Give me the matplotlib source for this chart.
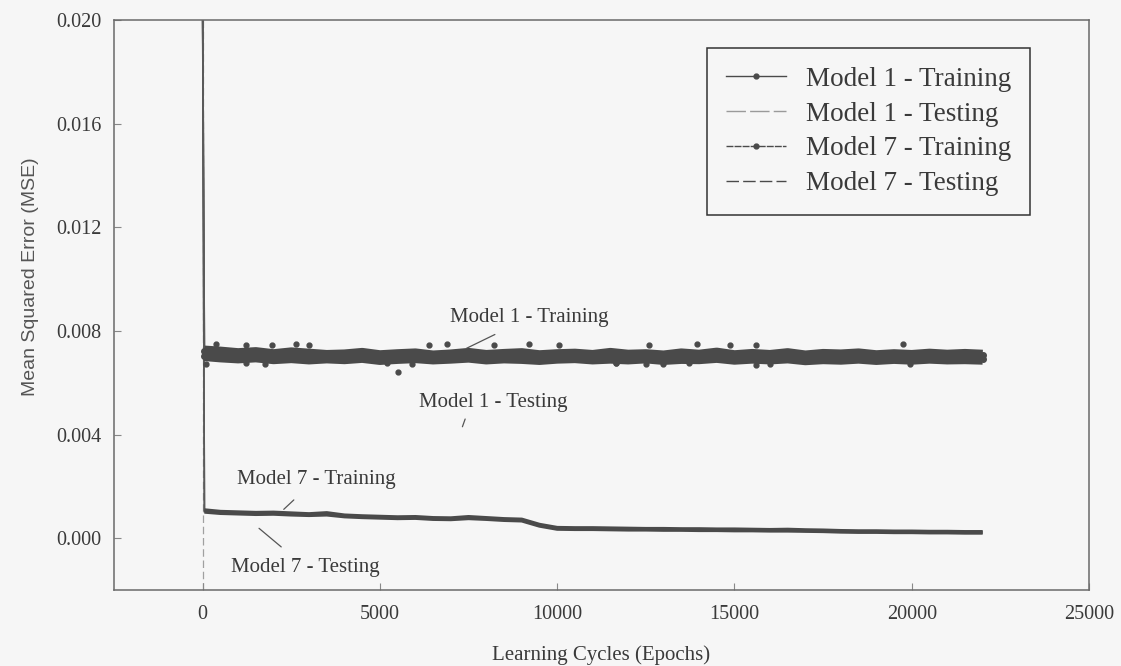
import matplotlib
matplotlib.use("Agg")
import matplotlib.pyplot as plt
from matplotlib.lines import Line2D

# ----------------------------
# Data
# ----------------------------
epochs = [0, 50] + list(range(500, 22001, 500))

m1_train = [0.0205, 0.00722,
            0.00718, 0.00712, 0.00716, 0.00708, 0.00715, 0.00710, 0.00705, 0.00707,
            0.00713, 0.00704, 0.00708, 0.00711, 0.00703, 0.00707, 0.00713, 0.00705,
            0.00709, 0.00712, 0.00704, 0.00708, 0.00710, 0.00705, 0.00713, 0.00706,
            0.00708, 0.00703, 0.00711, 0.00706, 0.00714, 0.00704, 0.00709, 0.00705,
            0.00712, 0.00703, 0.00709, 0.00707, 0.00711, 0.00704, 0.00708, 0.00705,
            0.00710, 0.00706, 0.00709, 0.00706]

m1_test = [0.0205, 0.00705,
           0.00700, 0.00696, 0.00700, 0.00693, 0.00697, 0.00692, 0.00696, 0.00693,
           0.00698, 0.00690, 0.00694, 0.00697, 0.00692, 0.00695, 0.00699, 0.00692,
           0.00696, 0.00694, 0.00690, 0.00695, 0.00697, 0.00692, 0.00695, 0.00692,
           0.00696, 0.00690, 0.00694, 0.00693, 0.00698, 0.00691, 0.00695, 0.00692,
           0.00696, 0.00689, 0.00693, 0.00691, 0.00695, 0.00690, 0.00694, 0.00691,
           0.00695, 0.00692, 0.00693, 0.00691]

# scattered dots sitting just off the Model 1 band
m1_dot_epochs = [370, 1210, 1950, 2630, 3000, 6380, 6890, 8220, 9210, 10060,
                 12600, 13930, 14860, 15620, 19750,
                 100, 1230, 1750, 5200, 5500, 5900, 11660, 12500, 19950,
                 11670, 12970, 13730, 15620, 15990]
m1_dot_mse = [0.00748, 0.00746, 0.00747, 0.00749, 0.00745, 0.00746, 0.00750, 0.00747, 0.00748, 0.00745,
              0.00746, 0.00749, 0.00745, 0.00747, 0.00751,
              0.00674, 0.00676, 0.00673, 0.00675, 0.00640, 0.00672, 0.00676, 0.00674, 0.00673,
              0.00675, 0.00673, 0.00676, 0.00668, 0.00674]

m7_train = [0.0205, 0.00108,
            0.00102, 0.00100, 0.00098, 0.00099, 0.00096, 0.00093, 0.00097, 0.00088,
            0.00085, 0.00083, 0.00081, 0.00082, 0.00078, 0.00077, 0.00082, 0.00078,
            0.00074, 0.00072, 0.00052, 0.00040, 0.00039, 0.00039, 0.00038, 0.00037,
            0.00036, 0.00036, 0.00035, 0.00035, 0.00034, 0.00034, 0.00033, 0.00032,
            0.00033, 0.00031, 0.00030, 0.00028, 0.00027, 0.00027, 0.00026, 0.00026,
            0.00025, 0.00025, 0.00024, 0.00024]

m7_test = [0.0205, 0.00102,
           0.00097, 0.00095, 0.00093, 0.00094, 0.00091, 0.00089, 0.00091, 0.00084,
           0.00081, 0.00079, 0.00077, 0.00078, 0.00074, 0.00073, 0.00077, 0.00074,
           0.00070, 0.00068, 0.00048, 0.00036, 0.00035, 0.00035, 0.00034, 0.00033,
           0.00033, 0.00032, 0.00032, 0.00031, 0.00031, 0.00030, 0.00030, 0.00029,
           0.00029, 0.00028, 0.00027, 0.00025, 0.00024, 0.00024, 0.00023, 0.00023,
           0.00022, 0.00022, 0.00021, 0.00021]

x_ticks = [0, 5000, 10000, 15000, 20000, 25000]
y_ticks = [0.000, 0.004, 0.008, 0.012, 0.016, 0.020]

# ----------------------------
# Style
# ----------------------------
BG = "#f6f6f6"
INK = "#3a3a3a"
LINE = "#4a4a4a"
SERIF = ["Liberation Serif", "DejaVu Serif"]

plt.rcParams["font.family"] = SERIF

fig = plt.figure(figsize=(11.21, 6.66), dpi=100, facecolor=BG)
ax = fig.add_axes([0.1017, 0.1141, 0.8698, 0.8559], facecolor=BG)

# faint line along epoch 0
ax.axvline(0, color="#a0a0a0", linewidth=0.9, linestyle=(0, (6, 3)), zorder=1)

# ----------------------------
# Curves: the first drop is drawn thin, the rest as the heavy bands
# ----------------------------
for series in (m1_train, m1_test, m7_train, m7_test):
    ax.plot(epochs[:2], series[:2], color="#5a5a5a", linewidth=1.2, zorder=2)

ax.plot(epochs[1:], m1_test[1:], color=LINE, linewidth=8, solid_capstyle="butt",
        marker="o", markersize=4, zorder=2)
ax.plot(epochs[1:], m1_train[1:], color=LINE, linewidth=8, solid_capstyle="butt",
        marker="o", markersize=4, zorder=3)
ax.plot(m1_dot_epochs, m1_dot_mse, linestyle="none", color=LINE, marker="o",
        markersize=3.5, zorder=3)
ax.plot(epochs[1:], m7_test[1:], color=LINE, linewidth=2.8, solid_capstyle="butt", zorder=2)
ax.plot(epochs[1:], m7_train[1:], color=LINE, linewidth=2.8, solid_capstyle="butt", zorder=3)

# ----------------------------
# Annotations with leader lines
# ----------------------------
ann_kw = dict(fontsize=15, color=INK, ha="center", va="center", family=SERIF)
arrow_kw = dict(arrowstyle="-", color="#555555", linewidth=0.9)

ax.annotate("Model 1 - Training", xy=(7370, 0.00728), xytext=(9200, 0.0085),
            arrowprops=dict(**arrow_kw, shrinkA=7), **ann_kw)
ax.text(8200, 0.00524, "Model 1 - Testing", **ann_kw)
ax.annotate("", xy=(7300, 0.0042), xytext=(7430, 0.0047), arrowprops=arrow_kw)
ax.annotate("Model 7 - Training", xy=(2230, 0.00104), xytext=(3200, 0.00228),
            arrowprops=dict(**arrow_kw, shrinkA=9), **ann_kw)
ax.annotate("Model 7 - Testing", xy=(1530, 0.00045), xytext=(2900, -0.00112),
            arrowprops=dict(**arrow_kw, shrinkA=9), **ann_kw)

# ----------------------------
# Axes
# ----------------------------
ax.set_xlim(-2500, 25000)
ax.set_ylim(-0.002, 0.020)
ax.set_xticks(x_ticks)
ax.set_xticklabels([str(v) for v in x_ticks])
ax.set_yticks(y_ticks)
ax.set_yticklabels([f"{v:.3f}" for v in y_ticks])
ax.tick_params(direction="in", length=5, width=0.8, color="#888888",
               labelsize=14.5, labelcolor=INK)
ax.tick_params(axis="x", pad=11)
ax.tick_params(axis="y", pad=9)
for side in ax.spines.values():
    side.set_color("#6a6a6a")
    side.set_linewidth(1.1)

ax.set_xlabel("Learning Cycles (Epochs)", fontsize=15, color=INK, labelpad=15)
ax.set_ylabel("Mean Squared Error (MSE)", fontsize=14, color="#555555",
              family=["Liberation Sans Narrow", "Liberation Sans", "DejaVu Sans"])
ax.yaxis.set_label_coords(-0.077, 0.549)

# ----------------------------
# Legend
# ----------------------------
handles = [
    Line2D([], [], color=LINE, linewidth=1.0, marker="o", markersize=3.5),
    Line2D([], [], color="#9a9a9a", linewidth=1.0, linestyle=(0, (14, 3))),
    Line2D([], [], color=LINE, linewidth=1.0, marker="o", markersize=3.5,
           linestyle=(0, (5, 0.8))),
    Line2D([], [], color=LINE, linewidth=1.0, linestyle=(0, (9, 3))),
]
labels = ["Model 1 - Training", "Model 1 - Testing",
          "Model 7 - Training", "Model 7 - Testing"]
leg = ax.legend(handles, labels, loc="upper right", bbox_to_anchor=(0.9395, 0.951),
                fontsize=19.5, frameon=True, fancybox=False, handlelength=2.2,
                handletextpad=0.75, labelspacing=0.36, borderpad=0.7,
                borderaxespad=0.0, labelcolor=INK)
leg.get_frame().set_edgecolor("#333333")
leg.get_frame().set_linewidth(1.1)
leg.get_frame().set_facecolor(BG)
leg.get_frame().set_alpha(1.0)

fig.savefig("out.png", dpi=100, facecolor=BG)
